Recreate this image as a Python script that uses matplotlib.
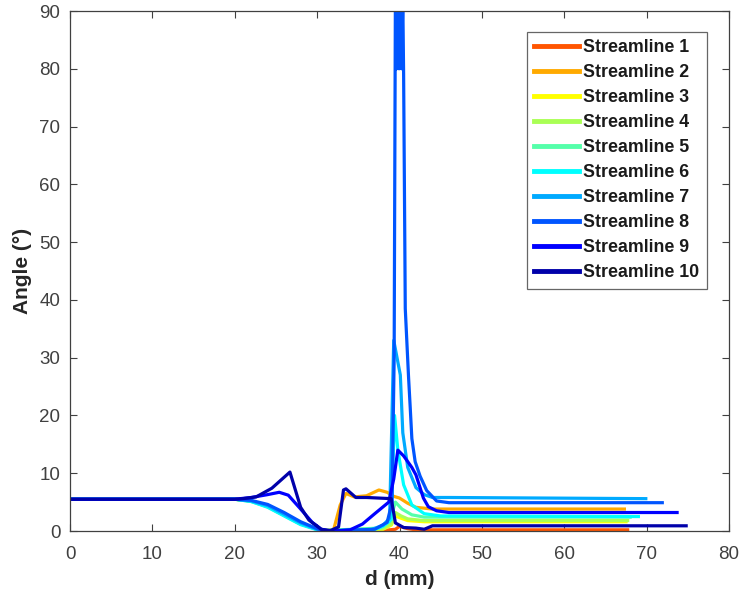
import matplotlib
matplotlib.use("Agg")
import matplotlib.pyplot as plt

plt.rcParams['font.family'] = ['Liberation Sans', 'DejaVu Sans']

labels = [f"Streamline {i}" for i in range(1, 11)]
colors = [(1, 0.333, 0), (1, 0.667, 0), (1, 1, 0), (0.667, 1, 0.333),
          (0.333, 1, 0.667), (0, 1, 1), (0, 0.667, 1), (0, 0.333, 1),
          (0, 0, 1), (0, 0, 0.667)]

x1 = [0, 20, 22, 24, 26, 28, 30, 31, 38, 39.5, 40, 41, 42, 67.7]
y1 = [5.5, 5.5, 5.2, 4.3, 2.8, 1.3, 0.3, 0.1, 0.1, 0.3, 0.8, 0.4, 0.2, 0.2]

x2 = [0, 20, 22, 24, 26, 28, 30, 31, 32, 32.8, 33.5, 34.5, 36, 37.5, 38.5, 39.3, 40, 41, 42, 44, 67.3]
y2 = [5.5, 5.5, 5.2, 4.2, 2.7, 1.2, 0.3, 0.1, 0.2, 4.5, 6.5, 5.9, 6.1, 7.1, 6.7, 6.0, 5.7, 4.8, 4.1, 3.8, 3.8]

x3 = [0, 20, 22, 24, 26, 28, 30, 31, 38, 39, 39.5, 40.2, 41, 43, 67.5]
y3 = [5.5, 5.5, 5.2, 4.3, 2.8, 1.3, 0.3, 0.1, 0.3, 1.0, 2.6, 2.2, 1.8, 1.6, 1.6]

x4 = [0, 20, 22, 24, 26, 28, 30, 31, 38, 39, 39.5, 40.2, 41, 43, 67.7]
y4 = [5.5, 5.5, 5.2, 4.3, 2.8, 1.3, 0.3, 0.1, 0.4, 1.2, 3.2, 2.6, 2.1, 1.8, 1.8]

x5 = [0, 20, 22, 24, 26, 28, 30, 31, 37.5, 38.8, 39.5, 40.3, 41.5, 43, 68]
y5 = [5.5, 5.5, 5.1, 4.2, 2.7, 1.2, 0.3, 0.1, 0.5, 1.6, 5.0, 3.8, 2.8, 2.4, 2.4]

x6 = [0, 20, 22, 24, 26, 28, 30, 31, 37, 38, 39, 39.4, 39.8, 40.5, 41.5, 43, 45, 69]
y6 = [5.5, 5.5, 5.1, 4.1, 2.6, 1.1, 0.2, 0.0, 0.3, 0.8, 2.0, 20, 14, 8, 4.5, 3.0, 2.6, 2.5]

x7 = [0, 20, 22, 24, 26, 28, 30, 31, 36.5, 38, 38.8, 39.3, 40.1, 40.4, 41, 42, 43, 44, 46, 69.9]
y7 = [5.5, 5.5, 5.2, 4.4, 2.9, 1.4, 0.3, 0.0, 0.2, 1.0, 2.2, 33, 27, 17, 11, 7.5, 6.3, 5.8, 5.8, 5.6]

x8 = [0, 20, 22, 24, 26, 28, 30, 31, 37, 38.5, 39.1, 39.35, 39.5, 39.65, 39.8, 39.95, 40.1, 40.25, 40.4,
      40.5, 40.6, 40.7, 41.1, 41.3, 41.5, 41.9, 42.5, 43.3, 44.5, 46, 71.9]
y8 = [5.5, 5.5, 5.3, 4.6, 3.2, 1.6, 0.4, 0.0, 0.3, 1.5, 5, 30, 92, 80, 92, 80, 92, 80, 92,
      79, 59, 38.5, 26.6, 21.4, 16, 12, 9.5, 7, 5.2, 4.9, 4.9]

x9 = [0, 20, 22, 24, 25.4, 26.5, 28, 29.4, 30.5, 32, 34, 35.5, 37, 38.7, 39.3, 39.8, 40.5, 41.5, 42, 42.9, 43.5, 44.5, 46, 73.7]
y9 = [5.5, 5.5, 5.8, 6.3, 6.7, 6.2, 3.8, 1.5, 0.3, 0.0, 0.2, 1.2, 3.0, 5.0, 9, 14, 13, 11, 9.7, 5.7, 4.2, 3.5, 3.2, 3.2]

x10 = [0, 20, 21, 22.6, 24.5, 26.7, 28, 29, 30.5, 31.5, 32.6, 33.2, 33.5, 34.7, 36, 39, 39.5, 40.5, 42, 43, 44, 74.8]
y10 = [5.5, 5.5, 5.6, 5.9, 7.4, 10.2, 4.1, 1.9, 0.3, 0.0, 0.7, 7.1, 7.3, 5.8, 5.8, 5.6, 1.4, 0.6, 0.5, 0.3, 0.9, 0.9]

xs = [x1, x2, x3, x4, x5, x6, x7, x8, x9, x10]
ys = [y1, y2, y3, y4, y5, y6, y7, y8, y9, y10]

xticks = [0, 10, 20, 30, 40, 50, 60, 70, 80]
yticks = [0, 10, 20, 30, 40, 50, 60, 70, 80, 90]

fig = plt.figure(figsize=(7.4, 5.98), dpi=100)
ax = fig.add_axes([70/740, 1-531/598, 659/740, 520/598])

for x, y, c, lab in zip(xs, ys, colors, labels):
    ax.plot(x, y, color=c, lw=2.3, label=lab, solid_joinstyle='round')

ax.set_xlim(0, 80)
ax.set_ylim(0, 90)
ax.set_xticks(xticks)
ax.set_yticks(yticks)
axc = '#404040'
for s in ax.spines.values():
    s.set_color('#404040')
    s.set_linewidth(0.9)
ax.tick_params(direction='in', top=True, right=True, length=5, width=0.8,
               colors='#404040', labelcolor=axc, labelsize=13.5)
ax.tick_params(axis='x', pad=11)
ax.tick_params(axis='y', pad=7)
ax.set_xlabel('d (mm)', fontsize=15, fontweight='bold', color='#262626', labelpad=5)
ax.set_ylabel('Angle (°)', fontsize=15, fontweight='bold', color='#262626', labelpad=5)

leg = ax.legend(loc='upper right', bbox_to_anchor=(0.966, 0.96), frameon=True,
                fancybox=False, edgecolor='#404040',
                prop={'weight': 'bold', 'size': 12.8}, handlelength=2.5,
                handletextpad=0.25, labelspacing=0.45, borderpad=0.42,
                borderaxespad=0)
leg.get_frame().set_linewidth(0.9)
for line in leg.get_lines():
    line.set_linewidth(3.5)
for t in leg.get_texts():
    t.set_color('#1a1a1a')

fig.savefig('out.png', dpi=100)
